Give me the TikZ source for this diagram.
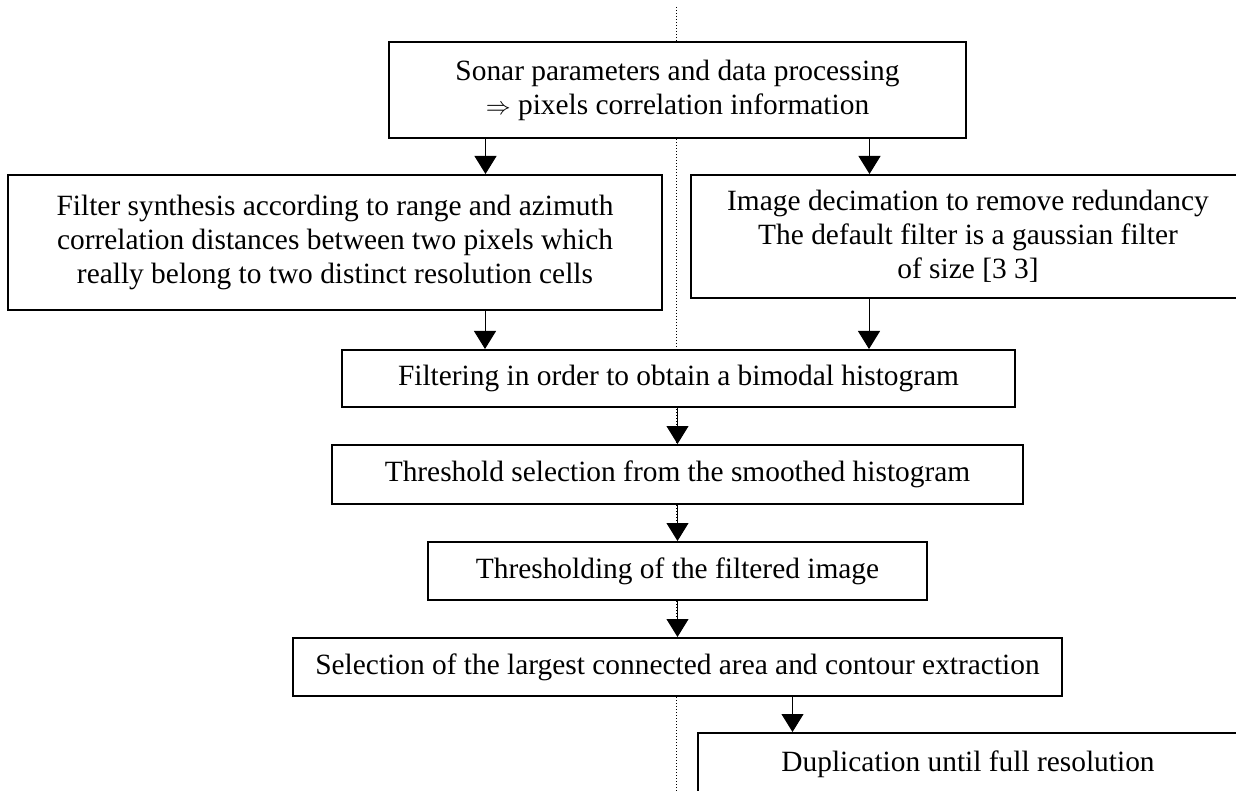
\documentclass[tikz,border=0pt]{standalone}
\usepackage{fontspec}
\setmainfont{Liberation Serif}
\usetikzlibrary{arrows.meta}

\begin{document}
\begin{tikzpicture}[x=1pt, y=-1pt,
	box/.style={draw, fill=white, line width=2pt, inner sep=0pt, align=center,
		font=\fontsize{29.4}{34}\selectfont},
	arr/.style={line width=1pt, -{Triangle[length=18pt, width=22pt]}}]
	\clip (0, 0) rectangle (1236, 791);

	% separation line
	\draw[line width=1pt, dash pattern=on 1pt off 2pt] (676, 7) -- (676, 791);

	\node[box, minimum width=577pt, minimum height=96pt] at (677.5, 90) (sonar)
		{Sonar parameters and data processing\\ $\Rightarrow$ pixels correlation information};

	\node[box, minimum width=654pt, minimum height=135pt] at (335, 242.5) (synth)
		{Filter synthesis according to range and azimuth\\ correlation distances between two pixels which\\ really belong to two distinct resolution cells};
	\node[box, minimum width=554pt, minimum height=123pt] at (968, 236.5) (deci)
		{Image decimation to remove redundancy\\ The default filter is a gaussian filter\\ of size [3 3]};

	\node[box, minimum width=673pt, minimum height=57pt] at (678.5, 378.5) (filt)
		{Filtering in order to obtain a bimodal histogram};
	\node[box, minimum width=691pt, minimum height=59pt] at (677.5, 474.5) (thrsel)
		{Threshold selection from the smoothed histogram};
	\node[box, minimum width=499pt, minimum height=58pt] at (677.5, 571) (thring)
		{Thresholding of the filtered image};
	\node[box, minimum width=769pt, minimum height=58pt] at (677.5, 667) (select)
		{Selection of the largest connected area and contour extraction};

	\node[box, minimum width=540pt, minimum height=62pt] at (968, 764) (dup)
		{Duplication until full resolution};

	% draw edges
	\draw[arr] ([xshift=-192pt]sonar.south) -- ([xshift=-192pt]sonar.south |- synth.north);
	\draw[arr] ([xshift=192pt]sonar.south) -- ([xshift=192pt]sonar.south |- deci.north);

	\draw[arr] ([xshift=150pt]synth.south) -- ([xshift=150pt]synth.south |- filt.north);
	\draw[arr] ([xshift=-99pt]deci.south) -- ([xshift=-99pt]deci.south |- filt.north);

	\draw[arr] (filt.south -| thrsel.north) -- (thrsel.north);
	\draw[arr] (thrsel.south) -- (thring.north);
	\draw[arr] (thring.south) -- (select.north);

	\draw[arr] ([xshift=115pt]select.south) -- ([xshift=115pt]select.south |- dup.north);

\end{tikzpicture}
\end{document}
